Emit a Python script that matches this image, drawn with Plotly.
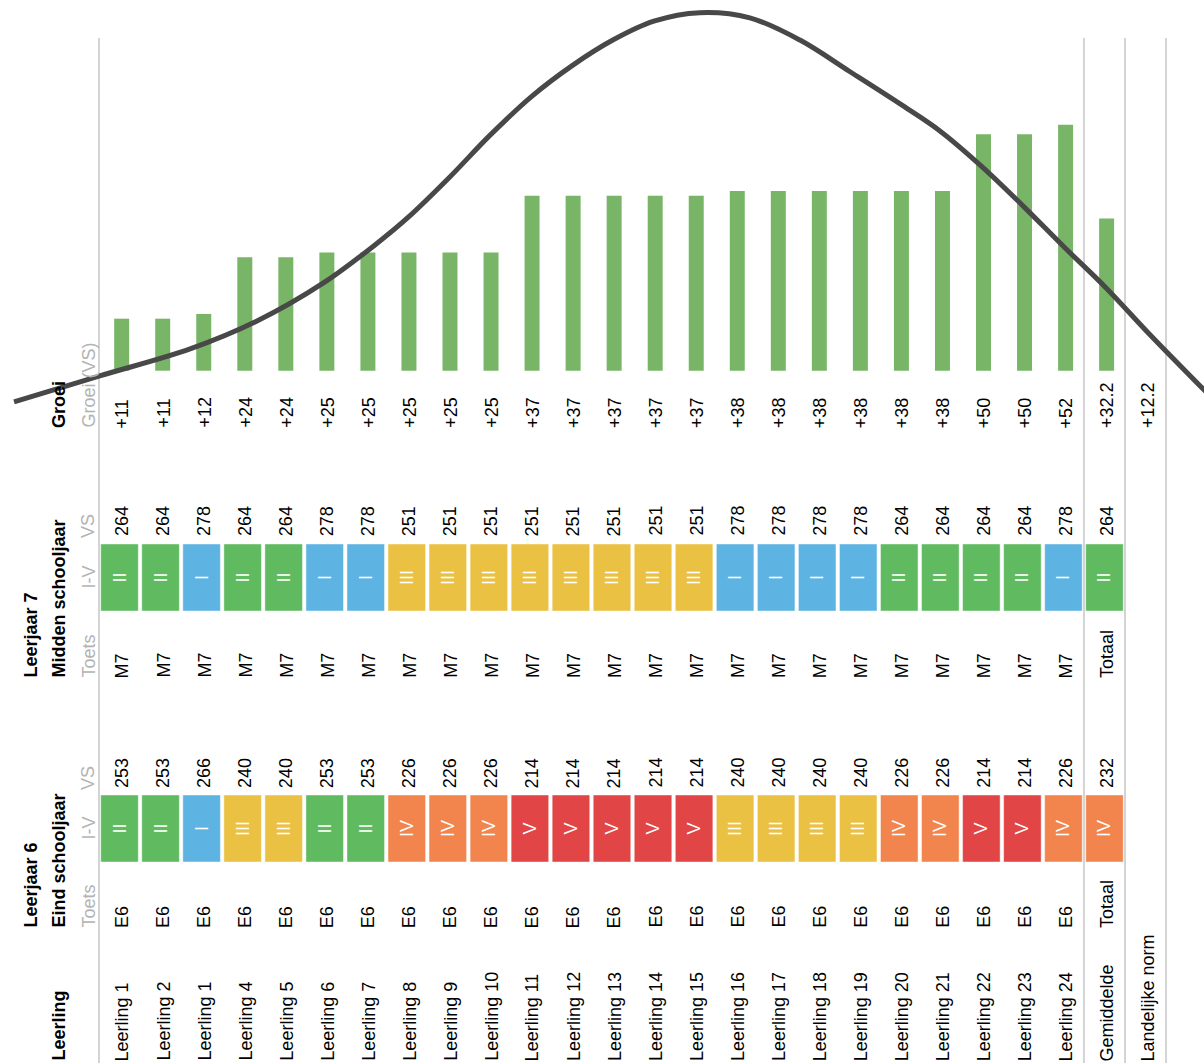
import plotly.graph_objects as go

W, H = 1204, 1063

# ---------------- data ----------------
namen = ["Leerling 1", "Leerling 2", "Leerling 1", "Leerling 4", "Leerling 5", "Leerling 6",
         "Leerling 7", "Leerling 8", "Leerling 9", "Leerling 10", "Leerling 11", "Leerling 12",
         "Leerling 13", "Leerling 14", "Leerling 15", "Leerling 16", "Leerling 17", "Leerling 18",
         "Leerling 19", "Leerling 20", "Leerling 21", "Leerling 22", "Leerling 23", "Leerling 24",
         "Gemiddelde", "Landelijke norm"]

toets_e6 = ["E6"] * 24 + ["Totaal"]
niveau_e6 = ["II", "II", "I", "III", "III", "II", "II", "IV", "IV", "IV", "V", "V", "V", "V", "V",
             "III", "III", "III", "III", "IV", "IV", "V", "V", "IV", "IV"]
vs_e6 = [253, 253, 266, 240, 240, 253, 253, 226, 226, 226, 214, 214, 214, 214, 214,
         240, 240, 240, 240, 226, 226, 214, 214, 226, 232]

toets_m7 = ["M7"] * 24 + ["Totaal"]
niveau_m7 = ["II", "II", "I", "II", "II", "I", "I", "III", "III", "III", "III", "III", "III", "III", "III",
             "I", "I", "I", "I", "II", "II", "II", "II", "I", "II"]
vs_m7 = [264, 264, 278, 264, 264, 278, 278, 251, 251, 251, 251, 251, 251, 251, 251,
         278, 278, 278, 278, 264, 264, 264, 264, 278, 264]

groei = [11, 11, 12, 24, 24, 25, 25, 25, 25, 25, 37, 37, 37, 37, 37,
         38, 38, 38, 38, 38, 38, 50, 50, 52, 32.2]
groei_norm = 12.2

# distribution curve (x in column units, y in growth units)
curve_x = [-2.57, -0.48, 1.72, 3.35, 4.96, 6.27, 7.03, 8.03, 9.03, 10.03, 11.03, 12.02, 13.02,
           14.14, 15.36, 16.58, 17.80, 19.02, 19.99, 21.02, 22.02, 23.01, 24.04, 25.11,
           26.43, 26.82]
curve_y = [-6.6, -1.1, 4.6, 10.5, 18.5, 26.9, 32.4, 40.8, 49.8, 57.9, 64.5, 69.9, 73.9,
           75.7, 74.6, 69.9, 63.2, 56.4, 50.7, 43.1, 34.8, 26.2, 17.5, 7.6,
           -4.1, -7.5]

niveau_kleur = {"I": "#5db4e2", "II": "#5fba60", "III": "#ebc143", "IV": "#f2844e", "V": "#e14545"}

# ---------------- geometry helpers ----------------
COL0, COLW = 99.0, 41.04
BASE_PX, PX_PER = 370.7, 4.73


def ppx(x):
    return x / W


def ppy(y):
    return 1 - y / H


xrange_ = [(0 - COL0) / COLW - 0.5, (W - COL0) / COLW - 0.5]
yrange_ = [(BASE_PX - H) / PX_PER, BASE_PX / PX_PER]

FONT = "Liberation Sans, Arial, sans-serif"
FS = 18
GREY = "#b3b3b3"

fig = go.Figure()

n = len(groei)
idx = list(range(n))

# growth bars
fig.add_trace(go.Bar(x=idx, y=groei, xaxis="x", yaxis="y", width=0.365, offset=-0.13,
                     marker=dict(color="#78b566", line=dict(width=0)), hoverinfo="skip"))
# curve
fig.add_trace(go.Scatter(x=curve_x, y=curve_y, mode="lines", xaxis="x", yaxis="y",
                         line=dict(color="#484848", width=5, shape="spline", smoothing=1.0),
                         hoverinfo="skip"))

# level cells
for niv, yax in ((niveau_m7, "y2"), (niveau_e6, "y3")):
    fig.add_trace(go.Bar(x=idx, y=[1] * n, xaxis="x", yaxis=yax, width=0.915,
                         marker=dict(color=[niveau_kleur[v] for v in niv],
                                     line=dict(color="rgba(255,255,255,0.45)", width=1)),
                         text=niv, textposition="inside", insidetextanchor="middle",
                         textangle=-90, textfont=dict(color="white", size=FS, family=FONT),
                         hoverinfo="skip"))

ann = []


def col_text(i, txt, ybottom, color="black"):
    ann.append(dict(x=i + 0.06, y=ppy(ybottom), xref="x", yref="paper", text=txt,
                    textangle=-90, xanchor="center", yanchor="bottom", showarrow=False,
                    font=dict(size=FS, color=color, family=FONT), borderpad=0))


groei_txt = ["+" + (f"{g:g}") for g in groei] + ["+" + f"{groei_norm:g}"]
for i, t in enumerate(groei_txt):
    col_text(i, t, 429)
for i in range(n):
    col_text(i, str(vs_m7[i]), 537)
    col_text(i, toets_m7[i], 679)
    col_text(i, str(vs_e6[i]), 789)
    col_text(i, toets_e6[i], 929)
for i, t in enumerate(namen):
    col_text(i, t, 1062)


def head(x, ybottom, txt, color="black", bold=False, anchor="bottom"):
    ann.append(dict(x=ppx(x), y=ppy(ybottom), xref="paper", yref="paper",
                    text=f"<b>{txt}</b>" if bold else txt, textangle=-90,
                    xanchor="center", yanchor=anchor, showarrow=False,
                    font=dict(size=FS, color=color, family=FONT), borderpad=0))


head(58.5, 429, "Groei", bold=True)
head(88, 429, "Groei (VS)", color=GREY)
head(30, 679, "Leerjaar 7", bold=True)
head(58.5, 679, "Midden schooljaar", bold=True)
head(88, 539, "VS", color=GREY)
head(88, 577.5, "I-V", color=GREY, anchor="middle")
head(88, 679, "Toets", color=GREY)
head(30, 929, "Leerjaar 6", bold=True)
head(58.5, 929, "Eind schooljaar", bold=True)
head(88, 791, "VS", color=GREY)
head(88, 828.5, "I-V", color=GREY, anchor="middle")
head(88, 929, "Toets", color=GREY)
head(58.5, 1062, "Leerling", bold=True)

shapes = []
for xb in (-0.5, n - 1.5, n - 0.5, n + 0.5):
    shapes.append(dict(type="line", xref="x", yref="paper", x0=xb, x1=xb, y0=ppy(38), y1=0,
                       line=dict(color="#d4d4d4", width=2), layer="below"))

fig.update_layout(
    width=W, height=H, margin=dict(l=0, r=0, t=0, b=0),
    paper_bgcolor="white", plot_bgcolor="rgba(0,0,0,0)", showlegend=False,
    barmode="overlay",
    xaxis=dict(domain=[0, 1], range=xrange_, visible=False, fixedrange=True),
    yaxis=dict(domain=[0, 1], range=yrange_, visible=False, fixedrange=True),
    yaxis2=dict(domain=[ppy(611), ppy(544)], range=[0, 1], visible=False, fixedrange=True),
    yaxis3=dict(domain=[ppy(862), ppy(795)], range=[0, 1], visible=False, fixedrange=True),
    annotations=ann, shapes=shapes,
    font=dict(family=FONT, size=FS),
)

fig.write_html("out.html", config={"displayModeBar": False},
               post_script="document.body.style.margin='0';document.body.style.overflow='hidden';")
